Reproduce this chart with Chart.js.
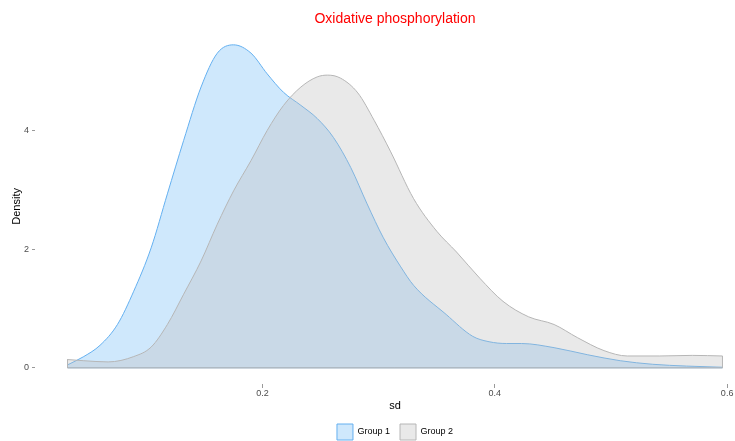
<!DOCTYPE html>
<html>
<head>
<meta charset="utf-8">
<script src="https://cdn.jsdelivr.net/npm/chart.js@4.4.1/dist/chart.umd.min.js"></script>
<style>
  html, body { margin: 0; padding: 0; background: #ffffff; overflow: hidden; }
  #wrap { width: 760px; height: 450px; }
</style>
</head>
<body>
<div id="wrap"><canvas id="densChart" width="760" height="450"></canvas></div>
<script>
    // titulos e legendas
    const chartTitle = 'Oxidative phosphorylation';
    const xTitle = 'sd';
    const yTitle = 'Density';
    const groups = ['Group 1', 'Group 2'];

    // densidade
    const sdGroup1 = [0.032, 0.046, 0.060, 0.075, 0.089, 0.104, 0.118, 0.132, 0.147, 0.161, 0.175, 0.190, 0.204, 0.218, 0.233, 0.247, 0.261, 0.276, 0.290, 0.304, 0.319, 0.330, 0.358, 0.381, 0.395, 0.410, 0.423, 0.451, 0.480, 0.508, 0.536, 0.565, 0.596];
    const densGroup1 = [0.05, 0.19, 0.38, 0.73, 1.29, 2.02, 2.93, 3.83, 4.73, 5.30, 5.44, 5.30, 4.95, 4.64, 4.42, 4.20, 3.88, 3.37, 2.76, 2.19, 1.70, 1.39, 0.90, 0.53, 0.44, 0.41, 0.41, 0.34, 0.22, 0.12, 0.06, 0.03, 0.01];

    const sdGroup2 = [0.032, 0.046, 0.067, 0.089, 0.104, 0.118, 0.132, 0.147, 0.161, 0.175, 0.190, 0.204, 0.218, 0.233, 0.247, 0.256, 0.267, 0.282, 0.296, 0.310, 0.330, 0.350, 0.367, 0.387, 0.407, 0.429, 0.451, 0.471, 0.494, 0.514, 0.542, 0.570, 0.596];
    const densGroup2 = [0.14, 0.12, 0.10, 0.19, 0.35, 0.73, 1.24, 1.80, 2.42, 2.98, 3.49, 4.00, 4.42, 4.73, 4.90, 4.93, 4.88, 4.63, 4.17, 3.65, 2.85, 2.30, 1.95, 1.51, 1.12, 0.86, 0.73, 0.51, 0.29, 0.20, 0.20, 0.21, 0.20];

    const xRange = [0.004, 0.624];
    const yRange = [-0.272, 5.71];

    function montarPontos(xs, ys) {
        return xs.map((x, i) => ({ x: x, y: ys[i] }));
    }

    // contorno do poligono: base e laterais
    function contorno(xs, ys) {
        const n = xs.length - 1;
        return [
            { x: xs[0], y: ys[0] }, { x: xs[0], y: 0 },
            { x: xs[n], y: 0 }, { x: xs[n], y: ys[n] }
        ];
    }

    const ctx = document.getElementById('densChart').getContext('2d');

    const densChart = new Chart(ctx, {
        type: 'line',
        data: {
            datasets: [
                {
                    label: groups[0],
                    data: montarPontos(sdGroup1, densGroup1),
                    backgroundColor: 'rgba(110,185,245,0.33)',
                    borderColor: 'rgb(100,176,240)',
                    borderWidth: 1,
                    fill: 'origin',
                    cubicInterpolationMode: 'monotone',
                    pointRadius: 0,
                    order: 1
                },
                {
                    label: groups[1],
                    data: montarPontos(sdGroup2, densGroup2),
                    backgroundColor: 'rgba(189,189,189,0.33)',
                    borderColor: 'rgb(182,182,182)',
                    borderWidth: 1,
                    fill: 'origin',
                    cubicInterpolationMode: 'monotone',
                    pointRadius: 0,
                    order: 0
                },
                {
                    label: 'contorno1',
                    data: contorno(sdGroup1, densGroup1),
                    borderColor: 'rgb(140,180,215)',
                    borderWidth: 1,
                    fill: false,
                    tension: 0,
                    pointRadius: 0,
                    order: -1
                },
                {
                    label: 'contorno2',
                    data: contorno(sdGroup2, densGroup2),
                    borderColor: 'rgb(182,182,182)',
                    borderWidth: 1,
                    fill: false,
                    tension: 0,
                    pointRadius: 0,
                    order: -2
                }
            ]
        },
        options: {
            responsive: false,
            animation: false,
            layout: { padding: { left: 0, right: 5, top: 0, bottom: 0 } },
            plugins: {
                title: {
                    display: true,
                    text: chartTitle,
                    color: '#ff0000',
                    fullSize: false,
                    font: { family: 'Liberation Sans', size: 14, weight: 'normal' },
                    padding: { top: 11, bottom: 1 }
                },
                legend: {
                    position: 'bottom',
                    fullSize: false,
                    labels: {
                        boxWidth: 16,
                        boxHeight: 16,
                        padding: 10,
                        color: '#000000',
                        font: { family: 'Liberation Sans', size: 9 },
                        filter: item => item.datasetIndex < 2,
                        sort: (a, b) => a.datasetIndex - b.datasetIndex
                    }
                },
                tooltip: { enabled: false }
            },
            scales: {
                x: {
                    type: 'linear',
                    min: xRange[0],
                    max: xRange[1],
                    border: { display: false },
                    grid: {
                        drawOnChartArea: false,
                        tickLength: 4,
                        color: '#999999'
                    },
                    ticks: {
                        stepSize: 0.2,
                        includeBounds: false,
                        padding: 0,
                        color: '#4d4d4d',
                        font: { family: 'Liberation Sans', size: 9 },
                        maxRotation: 0,
                        callback: v => Number(v).toFixed(1)
                    },
                    title: {
                        display: true,
                        text: xTitle,
                        color: '#000000',
                        font: { family: 'Liberation Sans', size: 11 },
                        padding: { top: 0, bottom: 1 }
                    },
                    afterFit: scale => { scale.height = 30; }
                },
                y: {
                    min: yRange[0],
                    max: yRange[1],
                    border: { display: false },
                    grid: {
                        drawOnChartArea: false,
                        tickLength: 3,
                        color: '#999999'
                    },
                    ticks: {
                        stepSize: 2,
                        includeBounds: false,
                        padding: 3,
                        color: '#4d4d4d',
                        font: { family: 'Liberation Sans', size: 9 }
                    },
                    title: {
                        display: true,
                        text: yTitle,
                        color: '#000000',
                        font: { family: 'Liberation Sans', size: 11 },
                        padding: { top: 10, bottom: 0 }
                    },
                    afterFit: scale => { scale.width = 35; }
                }
            }
        }
    });
</script>
</body>
</html>
